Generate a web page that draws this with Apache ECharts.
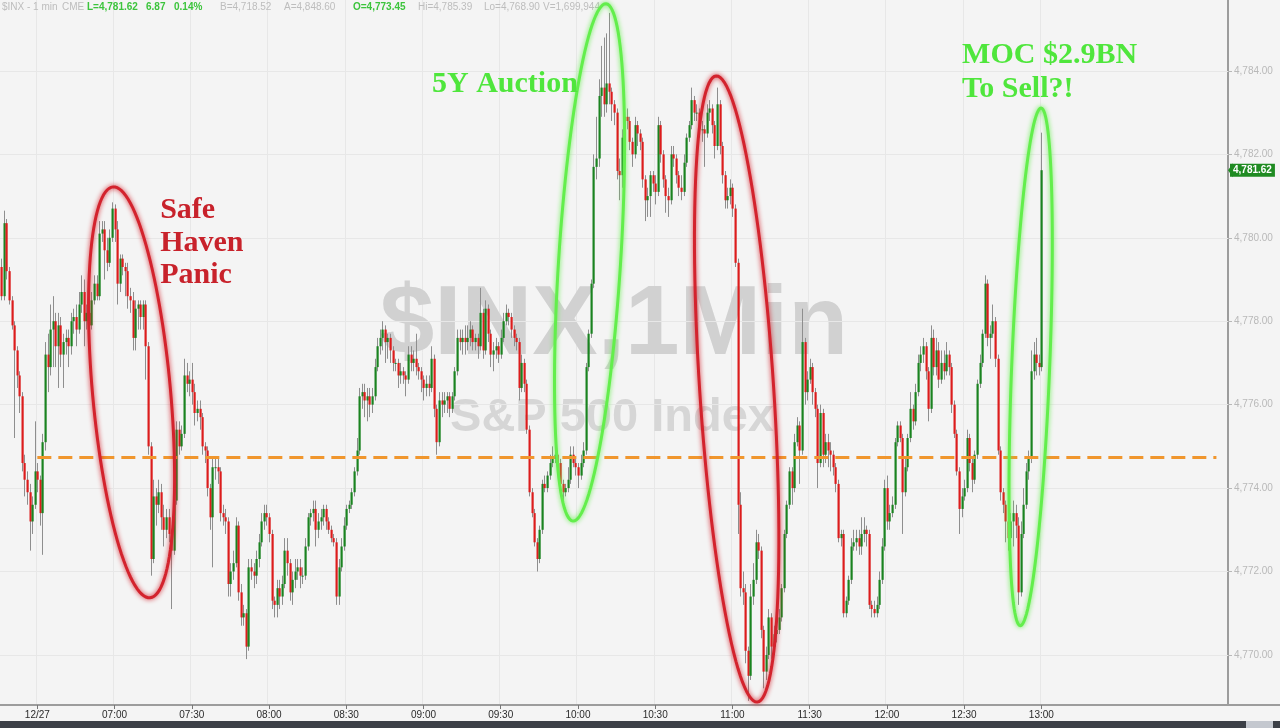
<!DOCTYPE html>
<html>
<head>
<meta charset="utf-8">
<script src="https://cdn.jsdelivr.net/npm/echarts@6/dist/echarts.min.js"></script>
<style>
html,body{margin:0;padding:0;background:#f4f4f4;}
#chart{width:1280px;height:728px;}
</style>
</head>
<body>
<div id="chart"></div>
<script>
// ---------------- DATA ----------------
// 1-minute closes: 14 bars from the prior session, then 12/27 06:30 .. 13:00
const firstOpen = 4779.3;
const closes = [
4778.6,4780.35,4779.2,4778.5,4777.9,4777.3,4776.7,4776.2,4774.6,4774.2,4773.9,4773.2,4773.6,4774.4,4774.2,4773.4,4775.1,4777.2,4776.9,4777.8,
4778.0,4777.4,4777.9,4777.2,4777.5,4777.6,4777.4,4778.0,4778.1,4777.8,4778.4,4778.7,4778.0,4778.2,4777.9,4778.5,4778.9,4778.6,4780.1,4780.2,
4779.7,4779.4,4780.0,4780.7,4780.2,4778.9,4779.5,4779.3,4779.2,4778.6,4778.5,4777.6,4778.3,4778.4,4778.1,4778.4,4777.4,4775.0,4772.3,4773.8,
4773.6,4773.9,4773.3,4773.0,4773.3,4772.9,4772.5,4773.7,4775.4,4775.0,4775.3,4776.7,4776.5,4776.6,4776.3,4775.8,4775.9,4775.7,4775.0,4774.9,
4774.0,4773.3,4774.5,4774.5,4774.4,4773.4,4773.3,4773.2,4771.7,4772.0,4772.2,4773.1,4771.5,4770.9,4771.0,4770.2,4772.1,4772.0,4771.9,4772.3,
4772.7,4773.2,4773.4,4773.3,4772.9,4771.3,4771.2,4771.6,4771.4,4771.7,4772.5,4772.2,4771.5,4771.8,4772.0,4772.1,4771.9,4771.9,4772.6,4773.3,
4773.4,4773.5,4773.0,4773.2,4773.3,4773.5,4773.2,4773.0,4772.8,4772.7,4771.4,4772.1,4772.6,4773.1,4773.5,4773.6,4773.9,4774.4,4774.9,4776.2,
4776.3,4776.1,4776.2,4776.0,4776.2,4776.9,4777.4,4777.6,4777.8,4777.5,4777.6,4777.3,4777.0,4777.0,4776.7,4776.8,4776.7,4776.6,4777.2,4777.0,
4777.1,4776.9,4776.8,4776.6,4776.4,4776.5,4776.4,4777.1,4775.9,4775.1,4776.1,4776.0,4776.1,4776.2,4775.9,4776.2,4776.8,4777.6,4777.5,4777.6,
4777.5,4777.6,4777.8,4777.5,4777.6,4777.4,4778.2,4777.3,4778.3,4777.7,4777.2,4777.3,4777.4,4777.2,4777.6,4778.0,4778.2,4778.1,4777.8,4777.6,
4777.5,4776.4,4777.0,4776.5,4775.4,4773.9,4773.4,4772.7,4772.3,4773.0,4774.1,4774.0,4774.3,4774.6,4774.7,4774.8,4774.6,4774.1,4773.9,4774.0,
4774.2,4774.8,4774.6,4774.5,4774.3,4774.6,4774.9,4776.9,4777.7,4778.9,4781.7,4781.9,4783.4,4783.6,4783.2,4783.7,4783.5,4783.2,4783.0,4781.6,
4781.5,4782.4,4782.9,4782.8,4782.3,4782.0,4782.7,4782.5,4782.3,4781.4,4780.9,4781.0,4781.5,4781.3,4781.1,4782.7,4782.0,4781.4,4781.0,4780.9,
4782.0,4781.9,4781.5,4781.2,4781.1,4781.8,4782.4,4782.7,4783.3,4783.0,4783.0,4782.6,4782.6,4782.5,4783.0,4783.1,4782.7,4782.2,4783.2,4782.2,
4781.5,4780.9,4781.0,4781.2,4780.7,4779.4,4773.6,4771.6,4771.5,4770.1,4769.5,4771.4,4771.8,4772.7,4772.5,4770.6,4769.6,4770.0,4770.9,4770.2,
4770.5,4770.6,4770.9,4771.6,4772.9,4773.6,4774.4,4774.0,4775.1,4775.5,4774.9,4777.5,4776.3,4776.6,4776.9,4776.3,4775.9,4774.6,4775.8,4774.8,
4775.1,4774.9,4774.8,4774.5,4774.1,4772.8,4772.9,4771.0,4771.3,4771.8,4772.6,4772.7,4772.8,4772.6,4772.9,4773.0,4772.9,4771.2,4771.1,4771.0,
4771.2,4771.8,4772.6,4774.0,4773.2,4773.4,4773.6,4775.1,4775.5,4775.2,4773.9,4774.5,4775.2,4775.9,4775.6,4776.3,4777.0,4777.2,4777.4,4776.8,
4775.9,4777.6,4776.9,4777.3,4776.6,4777.0,4776.8,4777.2,4776.9,4776.0,4775.3,4774.4,4773.5,4773.8,4774.0,4775.2,4774.6,4774.2,4774.8,4776.5,
4777.0,4777.7,4778.9,4777.6,4777.7,4778.0,4777.1,4774.9,4773.9,4773.6,4773.2,4772.8,4773.2,4773.4,4773.1,4771.5,4772.9,4773.6,4774.4,4774.7,
4776.8,4777.2,4777.0,4776.9,4781.62
];
// wick length above the body (points)
const wickUp = [
0.2,0.3,0.1,0.1,0.1,0.1,0.1,0.1,0.1,0.2,0.2,0.2,0.2,1.2,0.2,0.1,0.2,0.3,0.5,0.6,
0.6,0.2,0.3,0.2,0.2,0.2,0.2,0.2,0.2,0.3,0.3,0.4,0.3,0.2,0.2,0.2,0.2,0.2,0.3,0.2,
0.2,0.3,0.2,0.15,0.1,0.2,0.1,0.1,0.1,0.2,0.2,0.2,0.2,0.1,0.1,0.1,0.1,0.1,0.1,0.4,
0.2,0.3,0.2,0.3,0.2,0.2,0.1,0.2,0.2,0.2,0.2,0.4,0.3,0.2,0.4,0.2,0.2,0.2,0.1,0.1,
0.1,0.1,0.2,0.2,0.2,0.1,0.2,0.2,0.1,0.2,0.3,0.2,0.1,0.2,0.2,0.1,0.2,0.2,0.2,0.2,
0.2,0.2,0.2,0.2,0.1,0.1,0.1,0.2,0.2,0.2,0.3,0.3,0.1,0.2,0.3,0.2,0.2,0.2,0.2,0.1,
0.1,0.2,0.2,0.2,0.2,0.1,0.1,0.1,0.1,0.1,0.1,0.2,0.2,0.2,0.1,0.1,0.1,0.1,0.3,0.2,
0.2,0.2,0.2,0.2,0.2,0.2,0.2,0.2,0.2,0.1,0.1,0.1,0.1,0.1,0.1,0.2,0.1,0.1,0.2,0.2,
0.2,0.6,0.1,0.1,0.1,0.2,0.2,0.3,0.1,0.1,0.2,0.2,0.2,0.1,0.1,0.1,0.1,0.2,0.2,0.2,
0.3,0.3,0.2,0.1,0.1,0.1,0.6,0.1,0.2,0.1,0.1,0.2,0.2,0.1,0.2,0.2,0.2,0.1,0.1,0.1,
0.1,0.1,0.2,0.1,0.1,0.1,0.1,0.1,0.1,0.1,0.1,0.2,0.1,0.2,0.3,0.2,0.1,0.1,0.1,0.1,
0.3,0.2,0.2,0.1,0.1,0.2,0.2,0.1,0.1,0.1,0.3,1.0,0.4,1.0,1.2,1.2,1.69,0.1,0.1,0.1,
0.3,0.2,0.3,0.2,0.1,0.1,0.2,0.1,0.1,0.1,0.1,0.2,0.1,0.1,0.2,0.2,0.1,0.1,0.1,0.2,
0.2,0.2,0.1,0.1,0.3,0.2,0.1,0.1,0.3,0.1,0.2,0.1,0.2,0.1,0.2,0.2,0.1,0.1,0.4,0.1,
0.1,0.1,0.2,0.2,0.1,0.1,0.1,0.3,0.4,0.2,0.1,0.3,0.4,0.3,0.2,0.1,0.1,0.2,0.2,0.1,
0.2,0.2,0.2,0.1,0.1,0.1,0.1,0.1,0.2,0.2,0.1,0.8,0.1,0.2,0.2,0.1,0.1,0.1,0.2,0.1,
0.2,0.2,0.2,0.1,0.1,0.1,0.1,0.1,0.1,0.1,0.2,0.3,0.2,0.2,0.4,0.3,0.1,0.1,0.1,0.2,
0.2,0.2,0.2,0.2,0.3,0.2,0.2,0.1,0.1,0.1,0.1,0.2,0.1,0.4,0.1,0.2,0.2,0.2,0.2,0.1,
0.1,0.3,0.2,0.3,0.2,0.3,0.3,0.3,0.1,0.1,0.1,0.1,0.1,0.2,0.2,0.2,0.1,0.1,0.1,0.1,
0.2,0.1,0.2,0.1,0.2,0.4,0.1,0.1,0.1,0.1,0.1,0.2,0.2,0.3,0.2,0.2,0.3,0.4,0.2,0.2,
0.5,0.3,0.4,0.2,0.9
];
// wick length below the body (points)
const wickDown = [
0.1,0.1,0.2,0.1,0.1,2.1,0.3,0.4,0.2,0.4,0.3,0.7,0.3,0.1,0.3,0.3,1.0,0.2,0.6,0.2,
0.9,0.5,1.0,0.3,0.8,0.3,0.5,0.2,0.3,0.4,0.1,0.2,0.6,0.2,0.4,0.1,0.1,0.1,0.1,0.2,
0.7,0.2,0.1,0.1,0.3,0.5,0.2,0.2,0.6,0.3,0.3,0.3,0.3,0.5,0.3,0.3,0.8,0.2,0.4,0.1,
0.5,0.2,0.3,0.4,0.2,0.2,1.4,0.1,0.1,0.2,0.1,0.1,0.2,0.3,0.3,0.3,0.2,0.3,0.2,0.3,
0.2,0.3,1.2,0.3,0.3,0.2,0.2,0.3,0.3,0.3,0.2,0.1,0.2,0.2,0.2,0.3,0.1,0.2,0.3,0.2,
0.2,0.1,0.2,0.2,0.2,0.2,0.3,0.3,0.3,0.2,0.1,0.3,0.2,0.3,0.2,0.2,0.3,0.2,0.1,0.1,
0.2,0.2,0.4,0.2,0.2,0.2,0.2,0.1,0.1,0.1,0.2,0.2,0.1,0.1,0.1,0.1,0.1,0.1,0.1,0.1,
0.3,0.4,0.5,0.3,0.2,0.1,0.1,0.2,0.3,0.5,0.4,0.3,0.2,0.2,0.3,0.2,0.2,0.4,0.1,0.2,
0.2,0.2,0.2,0.3,0.3,0.2,0.2,0.1,0.2,0.3,0.1,0.3,0.2,0.3,0.2,0.1,0.1,0.1,0.2,0.3,
0.3,0.2,0.2,0.2,0.2,0.3,0.1,0.2,0.1,0.2,0.3,0.4,0.2,0.2,0.1,0.1,0.1,0.2,0.2,0.2,
0.2,0.3,0.1,0.2,0.1,0.1,0.1,0.1,0.3,0.1,0.1,0.1,0.1,0.1,0.1,0.1,0.2,0.1,0.2,0.1,
0.1,0.1,0.1,0.2,0.3,0.1,0.1,0.1,0.1,0.1,0.1,0.3,0.2,0.5,0.3,0.2,0.3,0.4,0.3,0.2,
0.6,0.3,0.2,0.2,0.2,0.3,0.1,0.3,0.2,0.2,0.5,0.4,0.5,0.2,0.3,0.1,0.2,0.2,0.4,0.4,
0.1,0.2,0.2,0.2,0.2,0.1,0.1,0.1,0.1,0.2,0.2,0.2,0.3,0.8,0.1,0.2,0.2,0.3,0.1,0.2,
0.2,0.2,0.2,0.2,0.2,0.1,0.7,0.2,0.3,0.3,0.6,0.1,0.2,0.1,0.2,0.2,0.4,0.2,0.1,0.3,
0.2,0.2,0.1,0.1,0.1,0.1,0.1,0.4,0.1,0.1,0.8,0.1,0.3,0.2,0.1,0.3,0.2,0.6,0.1,0.3,
0.2,0.4,0.4,0.2,0.2,0.1,0.2,0.1,0.1,0.1,0.1,0.1,0.2,0.2,0.2,0.2,0.3,0.1,0.2,0.1,
0.1,0.1,0.1,0.1,0.2,0.2,0.1,0.1,0.1,0.1,1.0,0.1,0.1,0.1,0.2,0.1,0.1,0.2,0.2,0.2,
0.3,0.1,0.2,0.2,0.2,0.1,0.2,0.1,0.2,0.2,0.1,0.1,0.6,0.2,0.1,0.1,0.2,0.3,0.1,0.1,
0.1,0.1,0.1,0.2,0.5,0.1,0.2,0.1,0.2,0.2,0.5,0.3,0.2,0.6,0.3,0.3,0.1,0.1,0.1,0.2,
0.1,0.2,0.3,0.2,0.1
];
const prevClose = 4774.75;
const lastPrice = 4781.62;
const yTickValues = [4770,4772,4774,4776,4778,4780,4782,4784];
const xTickTimes  = ['06:30','07:00','07:30','08:00','08:30','09:00','09:30','10:00','10:30','11:00','11:30','12:00','12:30','13:00'];
const xTickLabels = ['12/27','07:00','07:30','08:00','08:30','09:00','09:30','10:00','10:30','11:00','11:30','12:00','12:30','13:00'];
const headerParts = [
  ['$INX - 1 min', 'g'], ['CME', 'g'], ['L=4,781.62', 'G'], ['6.87', 'G'], ['0.14%', 'G'],
  ['B=4,718.52', 'g'], ['A=4,848.60', 'g'], ['O=4,773.45', 'G'], ['Hi=4,785.39', 'g'],
  ['Lo=4,768.90', 'g'], ['V=1,699,944', 'g']
];

// ---------------- BUILD ----------------
const PRIOR_BARS = 14, TOTAL_SLOTS = 477;
function hhmm(m){ const h=Math.floor(m/60), mm=m%60; return (h<10?'0':'')+h+':'+(mm<10?'0':'')+mm; }
const categories = [];
for (let k=0;k<TOTAL_SLOTS;k++){
  if (k<PRIOR_BARS) categories.push('12/26 '+hhmm(12*60+46+k));
  else categories.push(hhmm(6*60+30+(k-PRIOR_BARS)));
}
const candles = closes.map((c,i)=>{
  const o = i===0 ? firstOpen : closes[i-1];
  return [i, o, c, Math.min(o,c)-wickDown[i], Math.max(o,c)+wickUp[i]];
});
const isTick = (idx, val) => xTickTimes.indexOf(val) >= 0;
function fmt(v){ const s=v.toFixed(2).split('.'); return s[0].replace(/\B(?=(\d{3})+(?!\d))/g, ',')+'.'+s[1]; }

const GREEN='#1a8320', RED='#dc1c1c';
const chart = echarts.init(document.getElementById('chart'));
chart.setOption({
  animation:false,
  backgroundColor:'#f4f4f4',
  grid:{left:0, right:52, top:0, bottom:23, containLabel:false},
  xAxis:{
    type:'category', data:categories, boundaryGap:true,
    axisLine:{show:true, lineStyle:{color:'#9c9c9c', width:2}},
    axisTick:{show:true, interval:isTick, alignWithLabel:true, length:4, lineStyle:{color:'#777'}},
    axisLabel:{interval:isTick, formatter:v=>xTickLabels[xTickTimes.indexOf(v)] || '',
      color:'#2a2a2a', fontSize:10, fontFamily:'"Liberation Sans Narrow","Arial Narrow","Liberation Sans",sans-serif', margin:5},
    splitLine:{show:true, interval:isTick, lineStyle:{color:'#e7e7e7', width:1}}
  },
  yAxis:{
    type:'value', position:'right', min:4768.8, max:4785.7,
    axisLine:{show:true, lineStyle:{color:'#9c9c9c', width:2}},
    axisTick:{show:true, customValues:yTickValues, length:4, lineStyle:{color:'#b8b8b8'}},
    axisLabel:{customValues:yTickValues, formatter:fmt, color:'#b9b9b9', fontSize:10,
      fontFamily:'"Liberation Sans",Arial,sans-serif', margin:6},
    splitLine:{show:false}
  },
  series:[
    {
      type:'custom', name:'$INX', data:candles, encode:{x:0, y:[1,2,3,4]}, z:2, clip:true,
      renderItem:(params, api)=>{
        const k=api.value(0), o=api.value(1), c=api.value(2), lo=api.value(3), hi=api.value(4);
        const pO=api.coord([k,o]), pC=api.coord([k,c]), pL=api.coord([k,lo]), pH=api.coord([k,hi]);
        const xc=Math.round(pO[0]);
        const top=Math.min(pO[1],pC[1]), bot=Math.max(pO[1],pC[1]);
        return {type:'group', children:[
          {type:'line', shape:{x1:xc+0.5,y1:pH[1],x2:xc+0.5,y2:pL[1]}, style:{stroke:'#8e8e8e', lineWidth:1}},
          {type:'rect', shape:{x:xc-0.5, y:top, width:2.2, height:Math.max(1,bot-top)}, style:{fill: c>=o?GREEN:RED}}
        ]};
      },
      markLine:{
        silent:true, z:1, symbol:['none','none'], label:{show:false},
        lineStyle:{color:'#e7e7e7', width:1, type:'solid'},
        data: yTickValues.map(v=>({yAxis:v}))
      }
    },
    {
      type:'line', data:[], silent:true, z:6,
      markLine:{
        silent:true, z:6, symbol:['none','none'],
        data:[
          [{coord:[PRIOR_BARS, prevClose], lineStyle:{color:'#f0962d', width:3, type:[14,7]}, label:{show:false}},
           {coord:[472, prevClose]}],
          {yAxis:lastPrice, lineStyle:{color:'transparent', width:1},
           label:{show:true, position:'end', distance:2, formatter:fmt(lastPrice), color:'#ffffff',
             backgroundColor:'#1f8b22', padding:[2,3,1,3], fontSize:10, fontWeight:'bold',
             fontFamily:'"Liberation Sans",Arial,sans-serif'}}
        ]
      }
    }
  ]
});

// ---------------- ANNOTATIONS ----------------
function toPx(k, p){
  const k0=Math.floor(k), f=k-k0;
  const a=chart.convertToPixel({xAxisIndex:0, yAxisIndex:0}, [k0, p]);
  const b=chart.convertToPixel({xAxisIndex:0, yAxisIndex:0}, [k0+1, p]);
  return [a[0]+(b[0]-a[0])*f, a[1]];
}
function ellipsePts(T, B, half){
  const cx=(T[0]+B[0])/2, cy=(T[1]+B[1])/2, dx=B[0]-T[0], dy=B[1]-T[1];
  const len=Math.hypot(dx,dy), ry=len/2, ux=dx/len, uy=dy/len, vx=-uy, vy=ux;
  const pts=[];
  for(let i=0;i<120;i++){ const t=i/120*Math.PI*2, a=Math.sin(t)*ry, b=Math.cos(t)*half;
    pts.push([cx+ux*a+vx*b, cy+uy*a+vy*b]); }
  return pts;
}
const ANN_RED='#d3232d', ANN_GREEN='#63ee4c', TXT_RED='#c8222b', TXT_GREEN='#4fe63c';
const ellipses = [
  {top:[43.4,4781.22], bottom:[57.8,4771.37], half:39, color:ANN_RED},
  {top:[234.9,4785.61], bottom:[222.1,4773.21], half:31, color:ANN_GREEN},
  {top:[277.7,4783.88], bottom:[293.6,4768.87], half:37, color:ANN_RED},
  {top:[403.9,4783.11], bottom:[395.8,4770.70], half:19, color:ANN_GREEN}
];
const notes = [
  {text:'Safe', at:[61.7,4780.67], color:TXT_RED},
  {text:'Haven', at:[61.7,4779.87], color:TXT_RED},
  {text:'Panic', at:[61.7,4779.09], color:TXT_RED},
  {text:'5Y Auction', at:[167.3,4783.69], color:TXT_GREEN},
  {text:'MOC $2.9BN', at:[373.2,4784.38], color:TXT_GREEN},
  {text:'To Sell?!', at:[373.2,4783.57], color:TXT_GREEN}
];
const els = [];
// watermark
els.push({type:'text', x:614, y:327, z:0, silent:true, style:{text:'$INX,1Min', fill:'#d1d1d1',
  font:'bold 98px "Liberation Sans", Arial, sans-serif', textAlign:'center', textVerticalAlign:'middle'}});
els.push({type:'text', x:612, y:418, z:0, silent:true, style:{text:'S&P 500 Index', fill:'#d6d6d6',
  font:'bold 47px "Liberation Sans", Arial, sans-serif', textAlign:'center', textVerticalAlign:'middle'}});
// header
const headerX = [2, 62, 87, 146, 174, 220, 284, 353, 418, 484, 543];
headerParts.forEach((h,i)=>{
  els.push({type:'text', x:headerX[i], y:7, z:20, silent:true, style:{text:h[0],
    fill: h[1]==='G' ? '#3cc43c' : '#bdbdbd',
    font:(h[1]==='G'?'bold ':'')+'10px "Liberation Sans", Arial, sans-serif', textVerticalAlign:'middle'}});
});
// axis extensions and bottom scroll bar
els.push({type:'line', z:20, silent:true, shape:{x1:1228, y1:705, x2:1280, y2:705}, style:{stroke:'#9c9c9c', lineWidth:2}});
els.push({type:'rect', z:20, silent:true, shape:{x:0, y:721, width:1280, height:7}, style:{fill:'#3c4047'}});
els.push({type:'rect', z:21, silent:true, shape:{x:1246, y:721, width:27, height:7}, style:{fill:'#c4c8cf'}});
// ellipses
ellipses.forEach(e=>{
  const T=toPx(e.top[0], e.top[1]), B=toPx(e.bottom[0], e.bottom[1]);
  els.push({type:'polygon', z:30, silent:true, shape:{points:ellipsePts(T,B,e.half)},
    style:{fill:'none', stroke:e.color, lineWidth:3, shadowBlur:5, shadowColor:e.color}});
});
notes.forEach(n=>{
  const P=toPx(n.at[0], n.at[1]);
  els.push({type:'text', x:P[0], y:P[1], z:31, silent:true, style:{text:n.text, fill:n.color,
    font:'bold 30px "Liberation Serif", "Times New Roman", serif', textAlign:'left', textVerticalAlign:'middle'}});
});
// last-price tag arrow
const tagPt = toPx(404, lastPrice);
els.push({type:'polygon', z:22, silent:true, shape:{points:[[1228, tagPt[1]], [1233, tagPt[1]-7], [1233, tagPt[1]+7]]},
  style:{fill:'#1f8b22'}});
chart.setOption({graphic:{elements:els}});
</script>
</body>
</html>
